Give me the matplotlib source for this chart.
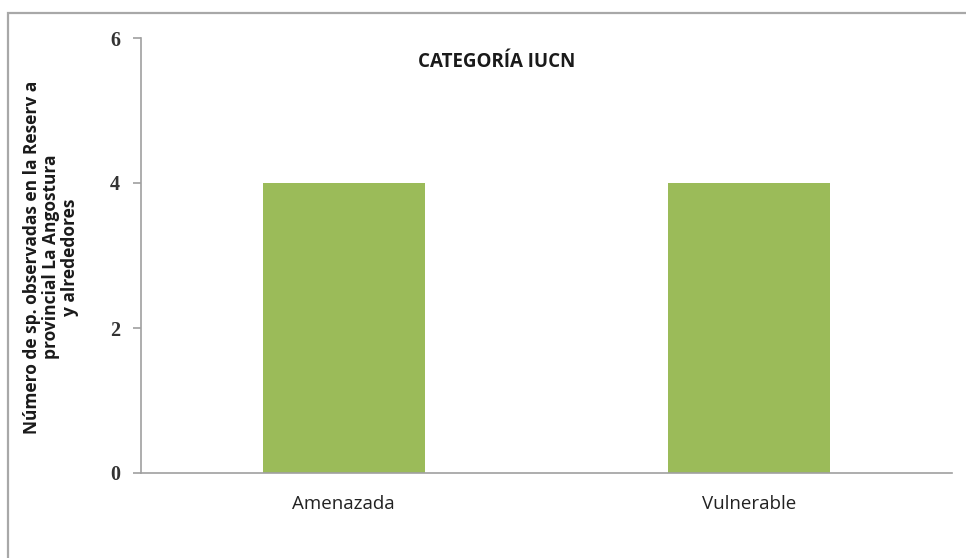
import matplotlib.pyplot as plt
from matplotlib.patches import Rectangle

categorias = ['Amenazada', 'Vulnerable']
n_especies = [4, 4]
y_ticks = [0, 2, 4, 6]

fig = plt.figure(figsize=(9.66, 5.58), dpi=100)
W, H = 966.0, 558.0

# outer frame (cut off at the right and bottom in the original)
fig.patches.append(Rectangle((8 / W, -0.1), 1.2, 1 - 13 / H + 0.1,
                             transform=fig.transFigure, fill=False,
                             edgecolor='#A8A8A8', linewidth=1.6))

ax = fig.add_axes([141 / W, 1 - 473 / H, (952 - 141) / W, (473 - 38) / H])
x = list(range(len(categorias)))
ax.bar(x, n_especies, width=0.4, color='#9BBB59')
ax.set_xlim(-0.5, len(categorias) - 0.5)
ax.set_ylim(0, 6)
ax.set_yticks(y_ticks)
ax.set_yticklabels([str(t) for t in y_ticks], family='Liberation Serif',
                   fontsize=14.5, fontweight='bold', color='#333333')
ax.set_xticks(x)
ax.set_xticklabels(categorias, family='Open Sans', fontsize=13.5, color='#222222')

for s in ['top', 'right']:
    ax.spines[s].set_visible(False)
for s in ['left', 'bottom']:
    ax.spines[s].set_color('#A0A0A0')
    ax.spines[s].set_linewidth(1.2)
ax.tick_params(axis='x', length=0, pad=16)
ax.tick_params(axis='y', length=6, width=1.2, color='#A0A0A0', pad=9)

fig.text(497 / W, 1 - 62 / H, 'CATEGORÍA IUCN', ha='center', va='center',
         family='Open Sans', fontsize=13.5, fontweight='bold', color='#1A1A1A')

fig.text(51 / W, 1 - 257 / H,
         'Número de sp. observadas en la Reserv a\nprovincial La Angostura\ny alrededores',
         rotation=90, ha='center', va='center', multialignment='center',
         family='Open Sans', fontsize=12.5, fontweight='bold', color='#1A1A1A',
         linespacing=1.05)

fig.savefig('out.png', dpi=100)
